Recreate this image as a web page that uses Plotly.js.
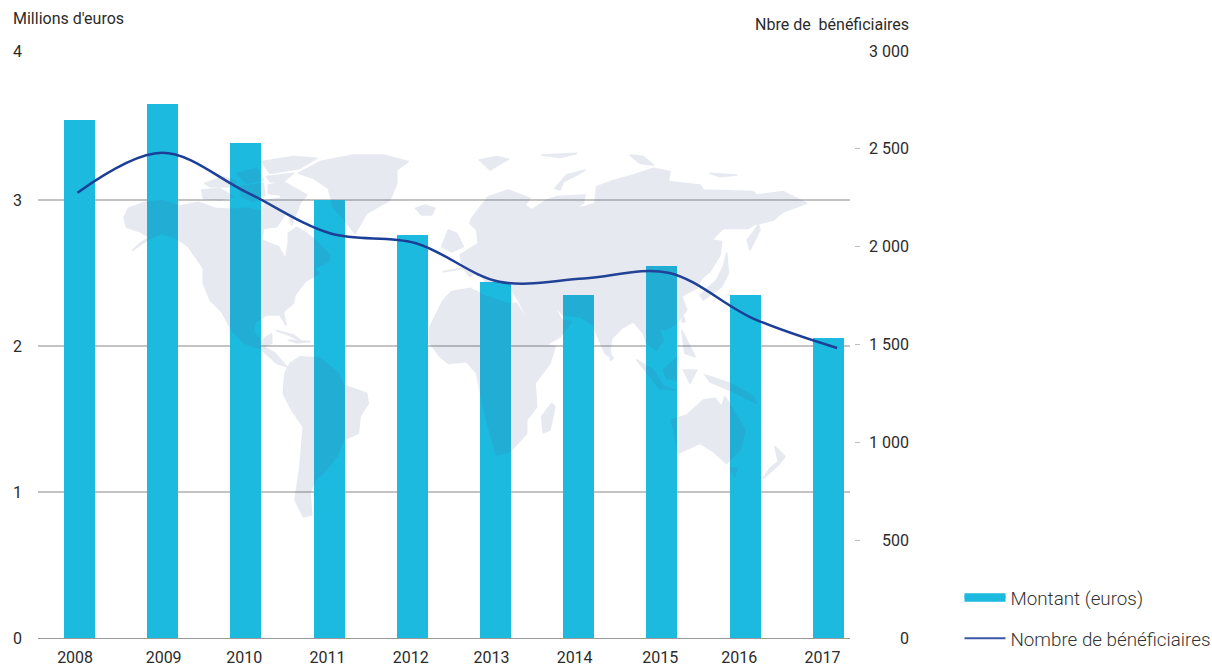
<!DOCTYPE html>
<html><head><meta charset="utf-8">
<script src="https://cdn.plot.ly/plotly-3.0.1.min.js"></script>
<style>html,body{margin:0;padding:0;background:#fff}#c{width:1212px;height:666px}</style>
</head><body><div id="c"></div>
<script>
const years = [2008,2009,2010,2011,2012,2013,2014,2015,2016,2017];
const montant = [3.548,3.658,3.39,3.0,2.76,2.44,2.35,2.55,2.35,2.055];
const beneficiaires = [2276,2480,2279,2067,2019,1821,1837,1867,1634,1482];
const yearLabelPos = [2007.946,2009.01,2009.98,2010.98,2011.98,2012.95,2013.95,2014.98,2015.93,2016.93];
const leftTickVals = [0,1,2,3,4.0205];
const leftTickText = ['0','1','2','3','4'];
const rightTickVals = [0,500,1000,1500,2000,2500,3000];
const rightTickText = ['0','500','1 000','1 500','2 000','2 500','3 000'];

// Decorative background world map (illustration, not data)
const mapWest = [
'M38,330L60,310 90,292 60,275 20,262 12,232 25,205 70,188 130,182 180,198 235,187 285,205 340,208 385,205 425,215 440,180 480,175 500,215 470,260 430,265 425,300 475,320 497,358 505,310 505,280 530,262 560,280 585,300 628,345 625,365 580,385 600,400 580,410 555,425 525,465 520,490 490,515 498,555 480,525 440,525 405,545 400,575 425,605 440,590 455,582 455,610 430,620 465,640 500,680 470,670 420,625 375,610 335,570 305,515 270,480 250,430 250,385 205,320 170,295 125,280 90,295Z',
'M255,130L310,110 350,125 330,140 270,140Z','M245,150L300,145 340,170 300,180 250,175Z',
'M350,100L410,85 430,120 380,130Z','M360,140L430,130 435,165 400,185 365,170Z',
'M445,135L490,125 560,165 540,190 515,255 505,215 480,165 445,160Z','M425,65L520,50 590,55 540,85 450,100Z','M440,110L520,100 490,125 450,125Z',
'M535,100L600,65 700,45 790,45 865,65 830,90 830,130 810,180 740,220 705,280 665,230 640,200 625,145 580,115Z',
'M470,572L520,585 540,600 505,585Z','M505,600L570,605 530,608Z',
'M887,205L915,195 945,205 935,225 905,225Z',
'M540,650L600,655 655,700 670,735 740,760 745,790 720,830 715,880 670,900 650,950 610,1000 585,1020 570,1060 575,1125 550,1130 525,1080 540,980 550,860 515,810 490,760 495,700 510,670Z'
];
const mapEast = [
'M65,320L85,270 110,280 130,320 95,335Z',
'M70,395L130,385 120,345 175,310 170,270 150,250 155,235 205,170 265,150 330,175 315,195 335,210 380,180 410,170 495,165 490,190 460,205 495,200 525,190 530,140 570,125 640,105 700,85 750,95 745,125 840,135 850,150 1000,155 1010,165 1090,155 1160,190 1120,205 1090,215 1060,240 1000,255 985,265 910,265 875,300 905,305 900,345 870,395 845,415 830,445 800,460 785,470 800,510 770,550 735,570 715,565 730,600 710,630 680,610 670,580 640,545 605,565 575,595 570,630 575,655 555,640 525,570 520,555 480,530 430,525 400,495 425,540 455,545 420,590 370,620 345,590 300,490 285,465 265,430 195,425 185,405 170,395 150,410 130,385Z',
'M30,560L70,480 95,455 150,445 200,470 260,490 290,490 355,605 405,620 390,670 345,730 350,800 320,840 320,880 270,935 230,945 205,860 190,800 170,700 140,665 85,670 60,650 30,610Z',
'M395,790L405,800 390,870 370,878 365,830Z','M568,640L580,655 572,660Z',
'M405,145L440,105 495,90 470,105 430,125 420,150Z','M178,60L230,50 265,58 210,90Z','M365,45L470,40 420,52Z','M630,45L670,50 700,75 660,70Z','M870,100L950,105 900,110Z',
'M1015,255L1020,270 990,330 982,300Z','M920,340L925,400 905,440 850,480 840,465 890,420 910,380Z','M790,530L795,545 785,545Z',
'M785,570L810,620 825,650 795,640Z','M650,660L700,690 730,740 710,735Z','M710,735L765,750 715,745Z','M730,690L775,650 770,720 740,715Z','M790,690L830,690 810,730Z',
'M855,705L930,730 1000,770 1010,790 950,760 870,725Z',
'M755,840L800,825 850,780 885,775 905,800 915,770 975,870 960,930 920,970 880,935 840,910 775,940 765,890Z',
'M930,985L950,985 945,1010Z','M1065,920L1095,950 1075,975 1030,1015 1050,985 1075,965Z'
];
const mapSvg = '<svg xmlns="http://www.w3.org/2000/svg" viewBox="38 51 812 587" width="812" height="587">'
 + '<g opacity="0.13" fill="rgb(77,92,146)" stroke="rgb(77,92,146)" stroke-width="5" stroke-linejoin="round">'
 + '<path transform="translate(120,140) scale(0.33333)" d="'+mapWest.join('')+'"/>'
 + '<path transform="translate(420,140) scale(0.33333)" d="'+mapEast.join('')+'"/>'
 + '</g></svg>';

const font = 'Roboto, sans-serif';
const ink = '#2b2b2b';
const traces = [
 {type:'bar', x:years, y:montant, name:'Montant (euros)', width:0.3726, marker:{color:'#1cbadf'}, showlegend:false, xaxis:'x', yaxis:'y'},
 {type:'scatter', mode:'lines', x:[null], y:[null], name:'Montant (euros)', fill:'tozeroy', fillcolor:'#1cbadf', line:{color:'#1cbadf', width:5}, legendgroup:'a', xaxis:'x', yaxis:'y'},
 {type:'scatter', mode:'lines', x:years, y:beneficiaires, name:'Nombre de bénéficiaires', showlegend:false, line:{color:'#1b3f97', width:2.5, shape:'spline', smoothing:1}, xaxis:'x2', yaxis:'y2'},
 {type:'scatter', mode:'lines', x:[null], y:[null], name:'Nombre de bénéficiaires', line:{color:'#3c57a6', width:2}, legendgroup:'b', xaxis:'x2', yaxis:'y2'}
];
const layout = {
 width:1212, height:666, autosize:false,
 margin:{l:38,r:352,t:51,b:28,pad:0,autoexpand:false},
 paper_bgcolor:'#fff', plot_bgcolor:'rgba(0,0,0,0)',
 font:{family:font,size:16,color:ink},
 bargap:0, showlegend:true,
 legend:{xref:'container',yref:'container',x:959.5/1212,xanchor:'left',y:1-579/666,yanchor:'top',itemwidth:41,font:{family:font,size:18.8,weight:300,color:'#333'},tracegroupgap:13,bgcolor:'rgba(0,0,0,0)',traceorder:'grouped'},
 xaxis:{domain:[0,812/822],range:[2007.5,2017.26],tickmode:'array',tickvals:yearLabelPos,ticktext:years.map(String),ticks:'',showgrid:false,zeroline:false,showline:true,linecolor:'#999',linewidth:1,ticklabelstandoff:5,fixedrange:true},
 xaxis2:{overlaying:'x',range:[2007.532,2017.153],visible:false,fixedrange:true,anchor:'y2'},
 yaxis:{range:[0,4.0205],tickmode:'array',tickvals:leftTickVals,ticktext:leftTickText,ticks:'',showgrid:true,gridcolor:'#c3c3c3',gridwidth:1.5,zeroline:false,showline:false,ticklabelstandoff:15,fixedrange:true},
 yaxis2:{overlaying:'y',side:'right',anchor:'free',position:1,range:[0,3000],tickmode:'array',tickvals:rightTickVals,ticktext:rightTickText,showticklabels:false,ticks:'inside',ticklen:5,tickwidth:1,tickcolor:'#bdbdbd',showgrid:false,zeroline:false,showline:false,fixedrange:true},
 images:[{source:'data:image/svg+xml;utf8,'+encodeURIComponent(mapSvg),xref:'paper',yref:'paper',x:0,y:1,sizex:812/822,sizey:1,xanchor:'left',yanchor:'top',sizing:'stretch',layer:'above'}],
 annotations:[
  {xref:'paper',yref:'paper',x:-27/822,y:1+32/587,xanchor:'left',yanchor:'middle',text:"Millions d'euros",showarrow:false,font:{family:font,size:16,color:ink}},
  {xref:'paper',yref:'paper',x:(911-38)/822,y:1+26/587,xanchor:'right',yanchor:'middle',text:'Nbre de\u00a0 bénéficiaires',showarrow:false,font:{family:font,size:16,color:ink}}
 ].concat(rightTickVals.map((v,i)=>({xref:'paper',yref:'y2',x:(911-38)/822,y:v,xanchor:'right',yanchor:'middle',text:rightTickText[i],showarrow:false,font:{family:font,size:16,color:ink}})))
};
Plotly.newPlot('c',traces,layout,{displayModeBar:false,staticPlot:true});
</script></body></html>
